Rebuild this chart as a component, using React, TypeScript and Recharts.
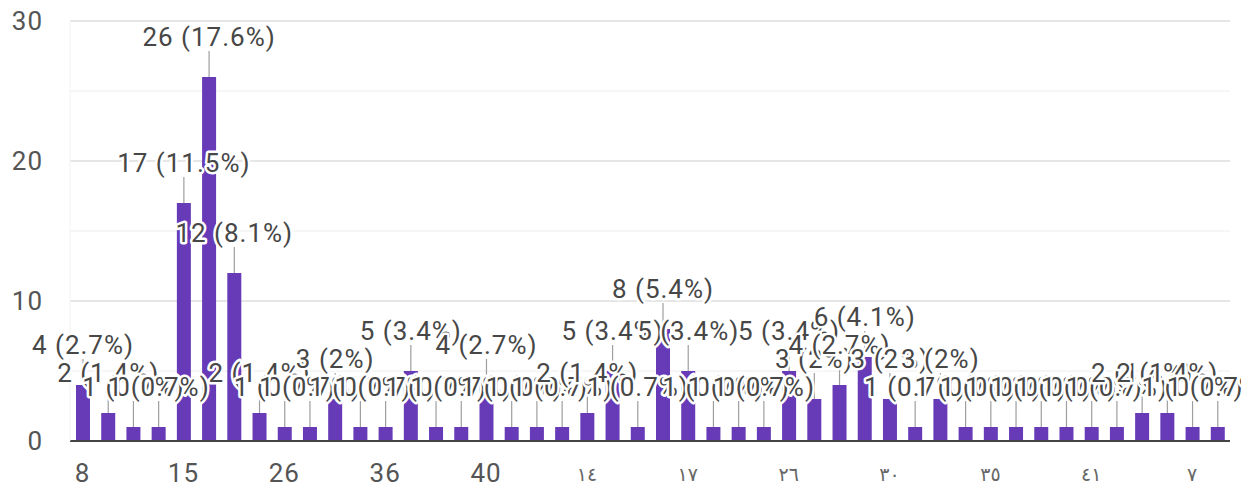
import React from 'react';
import { BarChart, Bar, XAxis, YAxis, CartesianGrid, LabelList } from 'recharts';

const categories: string[] = [
  '8', '9', '10', '13', '15', '16', '17', '18', '26', '28',
  '30', '33', '36', '37', '38', '39', '40', '42', '45', '50',
  '١٤', '١٥', '١٥ سنة', '١٦', '١٧', '١٨', '١٩', '٢٥', '٢٦', '٢٧',
  '٢٨', '٢٩', '٣٠', '٣١', '٣٢', '٣٣', '٣٥', '٣٦', '٣٨', '٤٠',
  '٤١', '٤٥', '٥٠', '٦٠', '٧', '٩',
];

const counts: number[] = [
  4, 2, 1, 1, 17, 26, 12, 2, 1, 1,
  3, 1, 1, 5, 1, 1, 4, 1, 1, 1,
  2, 5, 1, 8, 5, 1, 1, 1, 5, 3,
  4, 6, 3, 1, 3, 1, 1, 1, 1, 1,
  1, 1, 2, 2, 1, 1,
];

const yTicks: number[] = [0, 5, 10, 15, 20, 25, 30];

const total = counts.reduce((a, b) => a + b, 0);
const fmtPct = (v: number) => `${v} (${+((v / total) * 100).toFixed(1)}%)`;

const data = categories.map((c, i) => ({ name: c, value: counts[i], label: fmtPct(counts[i]) }));

const FONT = "Roboto, 'DejaVu Sans', sans-serif";
const isArabic = (s: string) => /[\u0600-\u06FF]/.test(s);

const renderLeader = (p: any) => {
  const cx = Number(p.x) + Number(p.width) / 2;
  const top = Number(p.y);
  return <line x1={cx} x2={cx} y1={top - 26} y2={top} stroke="#9e9e9e" strokeWidth={1.2} />;
};

const renderText = (p: any) => {
  const cx = Number(p.x) + Number(p.width) / 2;
  const top = Number(p.y);
  return (
    <text
      x={cx}
      y={top - 31}
      textAnchor="middle"
      fontSize={26}
      fontFamily={FONT}
      fill="#474747"
      stroke="#fff"
      strokeWidth={5}
      strokeLinejoin="round"
      paintOrder="stroke"
      letterSpacing={1}
    >
      {p.value}
    </text>
  );
};

const XTick = (p: any) => {
  const s = String(p.payload.value);
  const ar = isArabic(s);
  return (
    <text
      x={p.x}
      y={p.y}
      dy={ar ? '0.9em' : '0.71em'}
      textAnchor="middle"
      fontSize={ar ? 19 : 26}
      fontFamily={FONT}
      fill={ar ? '#666' : '#555'}
      letterSpacing={1}
    >
      {s}
    </text>
  );
};

const YTick = (p: any) => {
  const v = p.payload.value;
  if (v % 10 !== 0) return <g />;
  return (
    <text x={p.x} y={p.y} dy="0.355em" textAnchor="end" fontSize={26} fontFamily={FONT} fill="#555" letterSpacing={1}>
      {v}
    </text>
  );
};

const gridLine = (p: any) => {
  const major = p.index % 2 === 0;
  return (
    <line
      key={p.key}
      x1={p.x1}
      x2={p.x2}
      y1={p.y1}
      y2={p.y2}
      stroke={major ? '#e6e6e6' : '#f3f3f3'}
      strokeWidth={major ? 2 : 1.5}
    />
  );
};

export default function App() {
  return (
    <div style={{ position: 'absolute', left: 0, top: 0, background: '#fff' }}>
      <BarChart width={1241} height={490} data={data} margin={{ top: 21, right: 11, left: 0, bottom: 0 }}>
        <CartesianGrid vertical={false} horizontal={gridLine as any} />
        <XAxis
          dataKey="name"
          interval={3}
          height={49}
          tickSize={0}
          tickMargin={23}
          tickLine={false}
          axisLine={{ stroke: '#444', strokeWidth: 2 }}
          tick={XTick}
        />
        <YAxis
          domain={[0, 30]}
          ticks={yTicks}
          width={70}
          tickSize={0}
          tickMargin={27}
          tickLine={false}
          axisLine={{ stroke: '#f2f2f2' }}
          tick={YTick}
          interval={0}
        />
        <YAxis
          yAxisId="r"
          orientation="right"
          domain={[0, 30]}
          width={0}
          tick={false}
          tickLine={false}
          axisLine={{ stroke: '#f2f2f2' }}
        />
        <Bar dataKey="value" fill="#673ab7" barSize={14} isAnimationActive={false}>
          <LabelList dataKey="label" content={renderLeader} />
          <LabelList dataKey="label" content={renderText} />
        </Bar>
      </BarChart>
    </div>
  );
}
